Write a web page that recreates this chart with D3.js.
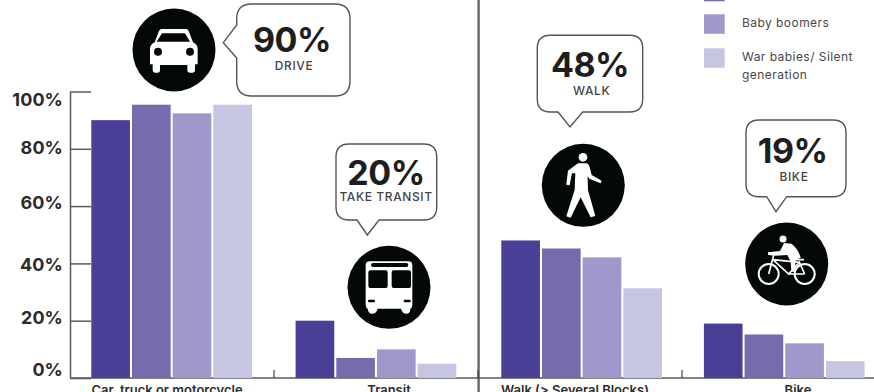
<!DOCTYPE html>
<html>
<head>
<meta charset="utf-8">
<script src="https://cdn.jsdelivr.net/npm/d3@7/dist/d3.min.js"></script>
<style>
  html, body { margin: 0; padding: 0; background: #fff; overflow: hidden; }
  svg { display: block; font-family: Inter, "Noto Sans", sans-serif; }
</style>
</head>
<body>
<svg id="chart" width="874" height="392"></svg>
<script>
// How people get around, by generation (percent)
const categories = ["Car, truck or motorcycle", "Transit", "Walk (> Several Blocks)", "Bike"];
const seriesNames = ["Millennials", "Generation X", "Baby boomers", "War babies/ Silent generation"];
const millennials = [90, 20, 48, 19];
const generationX = [95.4, 7, 45.2, 15.2];
const babyBoomers = [92.4, 10, 42.1, 12.1];
const warBabies = [95.4, 5, 31.3, 5.9];
const seriesValues = [millennials, generationX, babyBoomers, warBabies];
const seriesColors = ["#4a3f96", "#756cae", "#a098ca", "#c7c6e2"];
const yTicks = [0, 20, 40, 60, 80, 100];
const calloutWords = ["DRIVE", "TAKE TRANSIT", "WALK", "BIKE"];

const svg = d3.select("#chart");
const INK = "#5a5a5a";

const y = d3.scaleLinear().domain([0, 100]).range([378, 91.5]);
const x0 = d3.scaleBand().domain(categories).range([70, 886]);
const x1 = d3.scaleBand().domain(seriesNames).range([21.3, 182]).paddingInner(0.05);
const groupNudge = [0, 0.3, 2, 0.6];

// Divider between the two panels
svg.append("line")
  .attr("x1", 478.6).attr("x2", 478.6).attr("y1", 0).attr("y2", 392)
  .attr("stroke", "#666").attr("stroke-width", 2.4);

// Value axis: ticks run inward, towards the bars; labels are set by hand around the ticks
const yLabelShift = { 0: -8, 20: -3, 40: 1, 60: -3, 80: -1, 100: 8 };
const yAxis = svg.append("g")
  .attr("transform", "translate(70,0)")
  .call(d3.axisLeft(y).tickValues(yTicks).tickFormat(d => d + "%")
    .tickSizeInner(-21).tickSizeOuter(0).tickPadding(7));
yAxis.selectAll("path,line").attr("stroke", INK).attr("stroke-width", 1.5);
yAxis.selectAll("text")
  .attr("y", d => yLabelShift[d])
  .attr("fill", "#2b2b2b").attr("font-size", 18).attr("font-weight", 700)
  .attr("letter-spacing", 0.1).attr("font-family", "Inter");

// Category axis: labels sit under each group, with tick marks between groups
const labelNudge = [-5, 13, -5, 14];
const xAxis = svg.append("g")
  .attr("transform", "translate(0,378)")
  .call(d3.axisBottom(x0).tickSize(0).tickPadding(8));
xAxis.select(".domain").attr("d", "M70,0H874").attr("stroke", INK).attr("stroke-width", 1.5);
xAxis.selectAll("text")
  .attr("dx", (d, i) => labelNudge[i])
  .attr("fill", "#2b2b2b").attr("font-size", 13).attr("font-weight", 600)
  .attr("font-family", "Inter");

svg.append("g").selectAll("line")
  .data(categories.slice(1))
  .join("line")
  .attr("x1", d => x0(d)).attr("x2", d => x0(d))
  .attr("y1", 370).attr("y2", 378)
  .attr("stroke", "#444").attr("stroke-width", 1.2);

// Bars
svg.append("g").selectAll("g")
  .data(seriesNames)
  .join("g")
  .attr("fill", (d, i) => seriesColors[i])
  .each(function (name, s) {
    d3.select(this).selectAll("rect")
      .data(categories)
      .join("rect")
      .attr("x", (c, i) => x0(c) + x1(name) + groupNudge[i])
      .attr("width", x1.bandwidth())
      .attr("y", (c, i) => y(seriesValues[s][i]))
      .attr("height", (c, i) => y(0) - y(seriesValues[s][i]));
  });

// Legend, running off the top edge of the canvas
const legendTops = [-52, -18.2, 14.3, 48.3];
const legend = svg.append("g").selectAll("g")
  .data(seriesNames)
  .join("g")
  .attr("transform", (d, i) => `translate(704,${legendTops[i]})`);
legend.append("rect")
  .attr("width", 20.7).attr("height", 19.5)
  .attr("fill", (d, i) => seriesColors[i]);
const legendLines = { "War babies/ Silent generation": ["War babies/ Silent", "generation"] };
legend.filter((d, i) => legendTops[i] > 0).each(function (name) {
  d3.select(this).selectAll("text")
    .data(legendLines[name] || [name])
    .join("text")
    .attr("x", 38).attr("y", (d, i) => 13.2 + i * 17.5)
    .attr("font-size", 12).attr("fill", "#484848").attr("font-family", "Inter")
    .attr("letter-spacing", 0.45)
    .text(d => d);
});

// Speech-bubble outline with a pointer on the left or bottom edge
function bubble({ left, right, top, bottom, r, side, a, b, tipX, tipY }) {
  const p = d3.path();
  p.moveTo(left + r, top);
  p.lineTo(right - r, top);
  p.quadraticCurveTo(right, top, right, top + r);
  p.lineTo(right, bottom - r);
  p.quadraticCurveTo(right, bottom, right - r, bottom);
  if (side === "bottom") {
    p.lineTo(b, bottom);
    p.lineTo(tipX, tipY);
    p.lineTo(a, bottom);
  }
  p.lineTo(left + r, bottom);
  p.quadraticCurveTo(left, bottom, left, bottom - r);
  if (side === "left") {
    p.lineTo(left, b);
    p.lineTo(tipX, tipY);
    p.lineTo(left, a);
  }
  p.lineTo(left, top + r);
  p.quadraticCurveTo(left, top, left + r, top);
  p.closePath();
  return p.toString();
}

const bubbles = [
  { left: 236.7, right: 350, top: 4, bottom: 96, r: 15, side: "left", a: 25, b: 58, tipX: 223.3, tipY: 42.7, cx: 292, base: 52, wordX: 294, wordY: 69.5 },
  { left: 336, right: 436.7, top: 144, bottom: 220, r: 13, side: "bottom", a: 357, b: 379, tipX: 367.3, tipY: 235, cx: 386, base: 185, wordX: 386, wordY: 200.5 },
  { left: 537.3, right: 642.7, top: 35.3, bottom: 112, r: 13, side: "bottom", a: 558, b: 582.7, tipX: 570, tipY: 127, cx: 590, base: 77.3, wordX: 591.7, wordY: 94.5 },
  { left: 746, right: 846, top: 120, bottom: 196.7, r: 13, side: "bottom", a: 766.7, b: 786.7, tipX: 776, tipY: 211.7, cx: 792.7, base: 162.7, wordX: 794, wordY: 180.5 }
];

bubbles.forEach((b, i) => {
  svg.append("path").attr("d", bubble(b))
    .attr("fill", "#fff").attr("stroke", "#555").attr("stroke-width", 1.4);
  svg.append("text")
    .attr("x", b.cx).attr("y", b.base).attr("text-anchor", "middle")
    .attr("font-size", 34).attr("font-weight", 700).attr("fill", "#1e1e1e")
    .attr("letter-spacing", -0.5).attr("font-family", "Inter")
    .text(millennials[i] + "%");
  svg.append("text")
    .attr("x", b.wordX).attr("y", b.wordY).attr("text-anchor", "middle")
    .attr("font-size", 12).attr("font-weight", 500).attr("fill", "#444")
    .attr("letter-spacing", 0.6).attr("font-family", "Inter")
    .text(calloutWords[i]);
});

// Round black badges with white pictograms, drawn on a 3x local grid
const BLACK = "#050808";
const badges = [
  { cx: 174, cy: 50, ox: 132, oy: 135 },
  { cx: 389, cy: 287.3, ox: 132, oy: 133 },
  { cx: 583.3, cy: 185.3, ox: 136, oy: 136 },
  { cx: 786.7, cy: 264, ox: 134, oy: 135 }
];
const icons = badges.map(b => {
  const g = svg.append("g").attr("transform", `translate(${b.cx},${b.cy})`);
  g.append("circle").attr("r", 41.5).attr("fill", BLACK);
  return g.append("g").attr("transform", `scale(${1 / 3}) translate(${-b.ox},${-b.oy})`);
});

// Car
icons[0].append("path").attr("fill", "#fff")
  .attr("d", "M95,72 Q90,72 87,78 L74,112 Q60,118 60,132 L60,178 L68,178 L68,196 Q68,203 75,203 L84,203 Q90,203 90,196 L90,180 L172,180 L172,196 Q172,203 179,203 L188,203 Q195,203 195,196 L195,178 L203,178 L203,132 Q203,118 189,112 L176,78 Q173,72 168,72 Z");
icons[0].append("path").attr("fill", BLACK).attr("d", "M96,85 L165,85 L180,110 L80,110 Z");
icons[0].selectAll("circle.lamp").data([84, 180]).join("circle")
  .attr("cx", d => d).attr("cy", 140).attr("r", 12).attr("fill", BLACK);

// Bus
icons[1].append("path").attr("fill", "#fff")
  .attr("d", "M74,55 L190,55 Q202,55 202,67 L202,183 Q202,195 196,197 Q196,212 184,212 Q172,212 168,197 L98,197 Q94,212 82,212 Q70,212 68,197 Q62,195 62,183 L62,67 Q62,55 74,55 Z");
icons[1].append("rect").attr("x", 78).attr("y", 60).attr("width", 112).attr("height", 12).attr("rx", 6).attr("fill", BLACK);
icons[1].selectAll("rect.window").data([70, 140]).join("rect")
  .attr("x", d => d).attr("y", 82).attr("width", 58).attr("height", 53).attr("rx", 6).attr("fill", BLACK);
icons[1].selectAll("rect.lamp").data([69, 176]).join("rect")
  .attr("x", d => d).attr("y", 170).attr("width", 21).attr("height", 8).attr("rx", 3).attr("fill", BLACK);

// Pedestrian
icons[2].append("circle").attr("cx", 135).attr("cy", 52).attr("r", 13).attr("fill", "#fff");
icons[2].append("path").attr("fill", "#fff")
  .attr("d", "M120,70 L146,70 Q153,72 156,85 L161,105 L191,122 L188,130 L154,116 L149,108 L150,150 L172,228 L158,232 L128,172 L98,233 L85,229 L110,150 L112,100 L102,100 L95,136 L85,134 L90,92 Z");

// Cyclist
icons[3].append("circle").attr("cx", 123).attr("cy", 60).attr("r", 10.5).attr("fill", "#fff");
icons[3].append("path").attr("fill", "#fff")
  .attr("d", "M126,72 L148,74 Q168,88 176,116 L160,122 L160,158 L148,158 L146,128 L136,108 L100,110 L78,108 L78,100 L114,96 Z");
icons[3].selectAll("circle.wheel").data([80, 188]).join("circle")
  .attr("cx", d => d).attr("cy", 165).attr("r", 30)
  .attr("fill", "none").attr("stroke", "#fff").attr("stroke-width", 6);
icons[3].append("path").attr("fill", "none").attr("stroke", "#fff").attr("stroke-width", 5)
  .attr("d", "M95,108 L80,165 M93,122 L172,130 M95,124 L140,165 L172,130 L188,165 M140,165 L188,165 M158,122 L186,122");
</script>
</body>
</html>
